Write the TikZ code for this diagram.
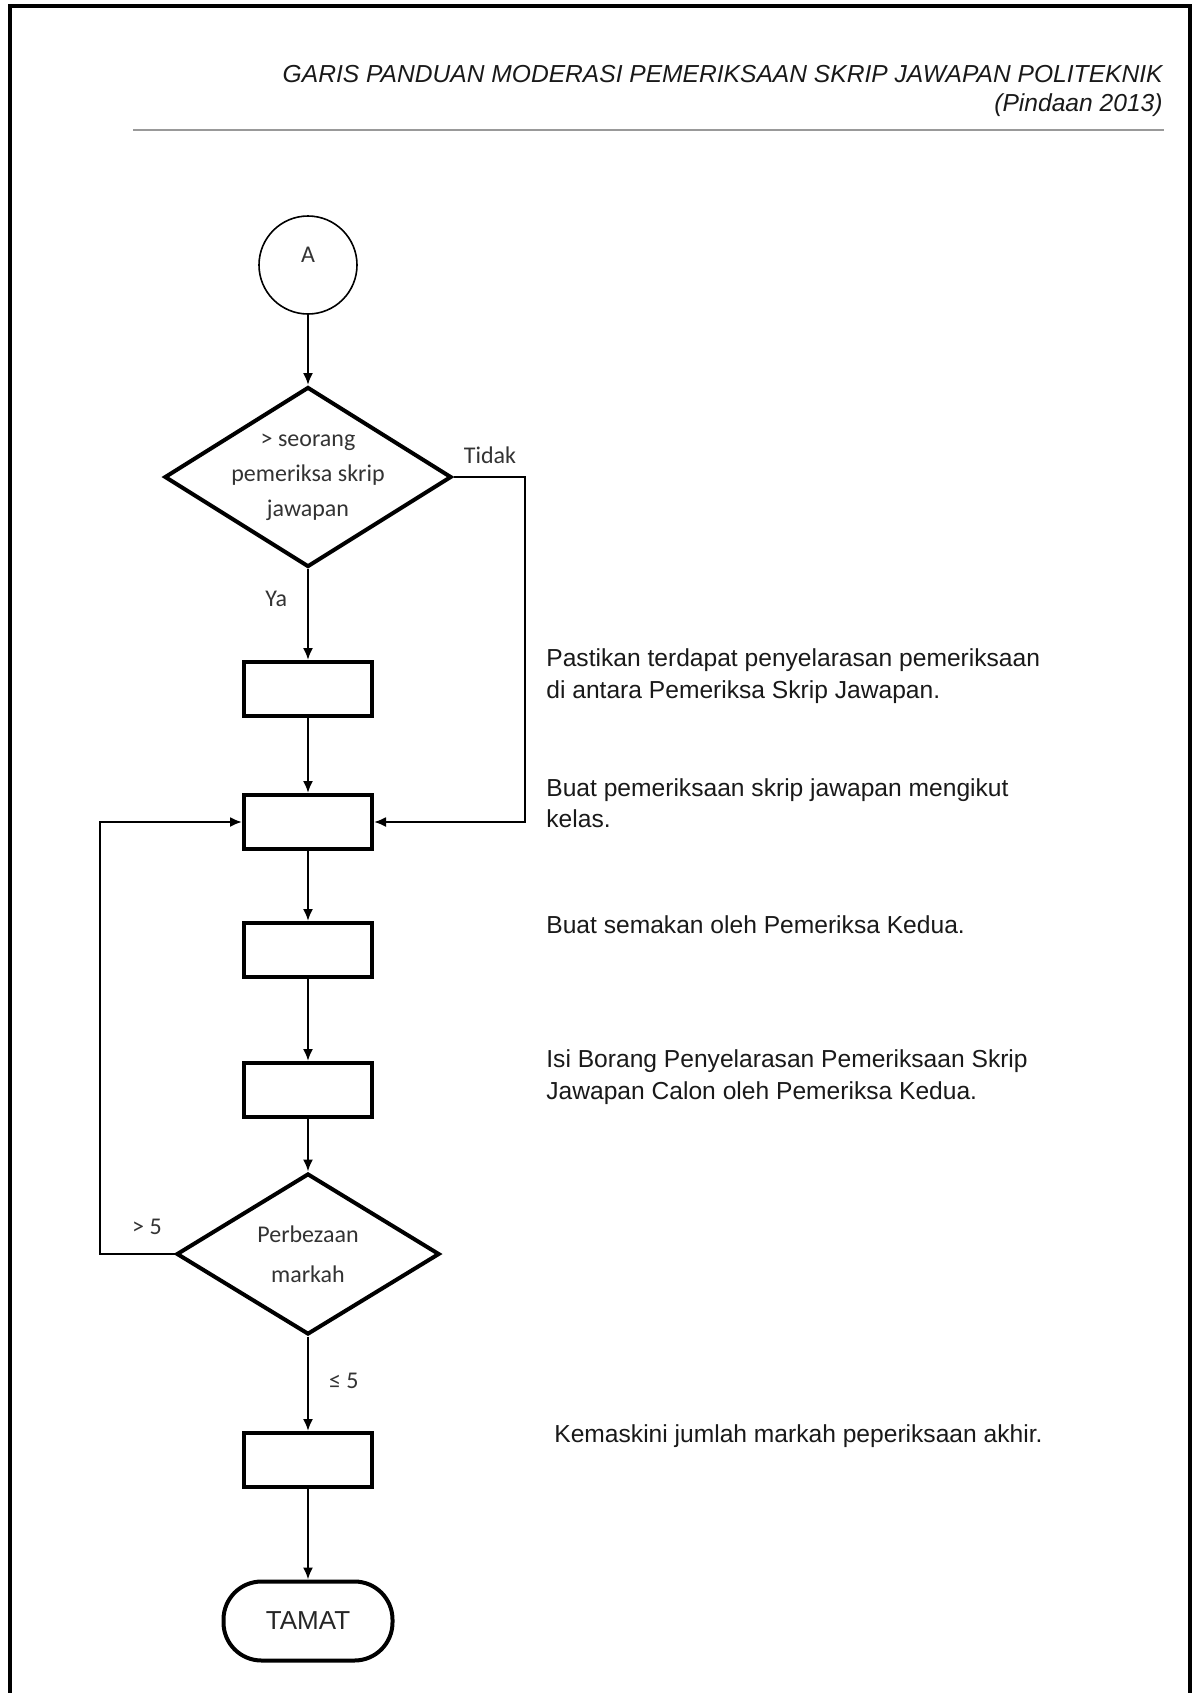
\documentclass[tikz,border=0pt]{standalone}
\usepackage{fontspec}
\setmainfont{Liberation Sans}
\newfontfamily\carlito{Carlito}
\usetikzlibrary{arrows.meta,shapes.geometric}

\begin{document}
\begin{tikzpicture}[x=0.5pt,y=-0.5pt,
	proses/.style={draw, line width=2pt, minimum width=64pt, minimum height=27pt, inner sep=0pt},
	putusan/.style={draw, diamond, line width=2pt, inner sep=-4pt, align=center,
		font=\carlito\fontsize{12}{17.5}\selectfont, text=black!80},
	aliran/.style={-{Latex[length=6pt,width=5pt]}, line width=1pt},
	cabang/.style={font=\carlito\fontsize{12}{14}\selectfont, text=black!80, inner sep=0pt},
	nota/.style={anchor=west, align=left, inner sep=0pt, font=\fontsize{12.3}{15.7}\selectfont, text=black!90}]

		\useasboundingbox (0,0) rectangle (1194,1693);

		% Bingkai halaman
		\draw [line width=2pt] (10,1693) -- (10,6) -- (1190,6) -- (1190,1693);

		% Tajuk
		\node [anchor=east, inner sep=0pt, font=\itshape\fontsize{12.3}{14}\selectfont, text=black!90] (judul) at (1163,74)
			{GARIS PANDUAN MODERASI PEMERIKSAAN SKRIP JAWAPAN POLITEKNIK};
		\node [anchor=east, inner sep=0pt, font=\itshape\fontsize{12.3}{14}\selectfont, text=black!90] (pindaan) at (1163,105)
			{(Pindaan 2013)};
		\draw [black!40, line width=0.8pt] (133,130) -- (1164,130);

		% Carta alir
		\node [draw, circle, line width=0.8pt, minimum size=49pt, inner sep=0pt, font=\carlito\fontsize{12}{14}\selectfont, text=black!80] (A) at (308,265) {\raisebox{10pt}{A}};
		\node [putusan, aspect=1.6, minimum width=143.5pt, minimum height=90pt] (q1) at (308,477)
			{> seorang\\pemeriksa skrip\\jawapan};
		\node [proses] (b1) at (308,689) {};
		\node [proses] (b2) at (308,822) {};
		\node [proses] (b3) at (308,950) {};
		\node [proses] (b4) at (308,1090) {};
		\node [putusan, aspect=1.6, minimum width=131.5pt, minimum height=80.5pt, font=\carlito\fontsize{12}{20}\selectfont] (q2) at (308,1254)
			{Perbezaan\\markah};
		\node [proses] (b5) at (308,1460) {};
		\node [draw, line width=2pt, rounded corners=19pt, minimum width=84.5pt, minimum height=39.5pt, inner sep=0pt,
			font=\fontsize{13}{15}\selectfont, text=black!85] (tamat) at (308,1621) {TAMAT};

		\coordinate (kanan) at (525,477);
		\coordinate (kiri) at (100,1254);

		\draw [aliran] (A) -- (q1);
		\draw [aliran] (q1) -- node [cabang, pos=0.33, left=10pt] (ya) {Ya} (b1);
		\draw [aliran] (q1.east) -- (kanan) |- (b2.east);
		\node [cabang] (tidak) at (490,455) {Tidak};
		\draw [aliran] (b1) -- (b2);
		\draw [aliran] (b2) -- (b3);
		\draw [aliran] (b3) -- (b4);
		\draw [aliran] (b4) -- (q2);
		\draw [aliran] (q2.west) -- (kiri) |- (b2.west);
		\node [cabang] (lebih) at (147,1227) {> 5};
		\draw [aliran] (q2) -- node [cabang, pos=0.47, right=10pt] (kurang) {≤ 5} (b5);
		\draw [aliran] (b5) -- (tamat);

		% Nota
		\node [nota] (n1) at (546,676) {Pastikan terdapat penyelarasan pemeriksaan\\di antara Pemeriksa Skrip Jawapan.};
		\node [nota] (n2) at (546,803) {Buat pemeriksaan skrip jawapan mengikut\\kelas.};
		\node [nota] (n3) at (546,925) {Buat semakan oleh Pemeriksa Kedua.};
		\node [nota] (n4) at (546,1077) {Isi Borang Penyelarasan Pemeriksaan Skrip\\Jawapan Calon oleh Pemeriksa Kedua.};
		\node [nota] (n5) at (554,1436) {Kemaskini jumlah markah peperiksaan akhir.};

	\end{tikzpicture}
\end{document}
